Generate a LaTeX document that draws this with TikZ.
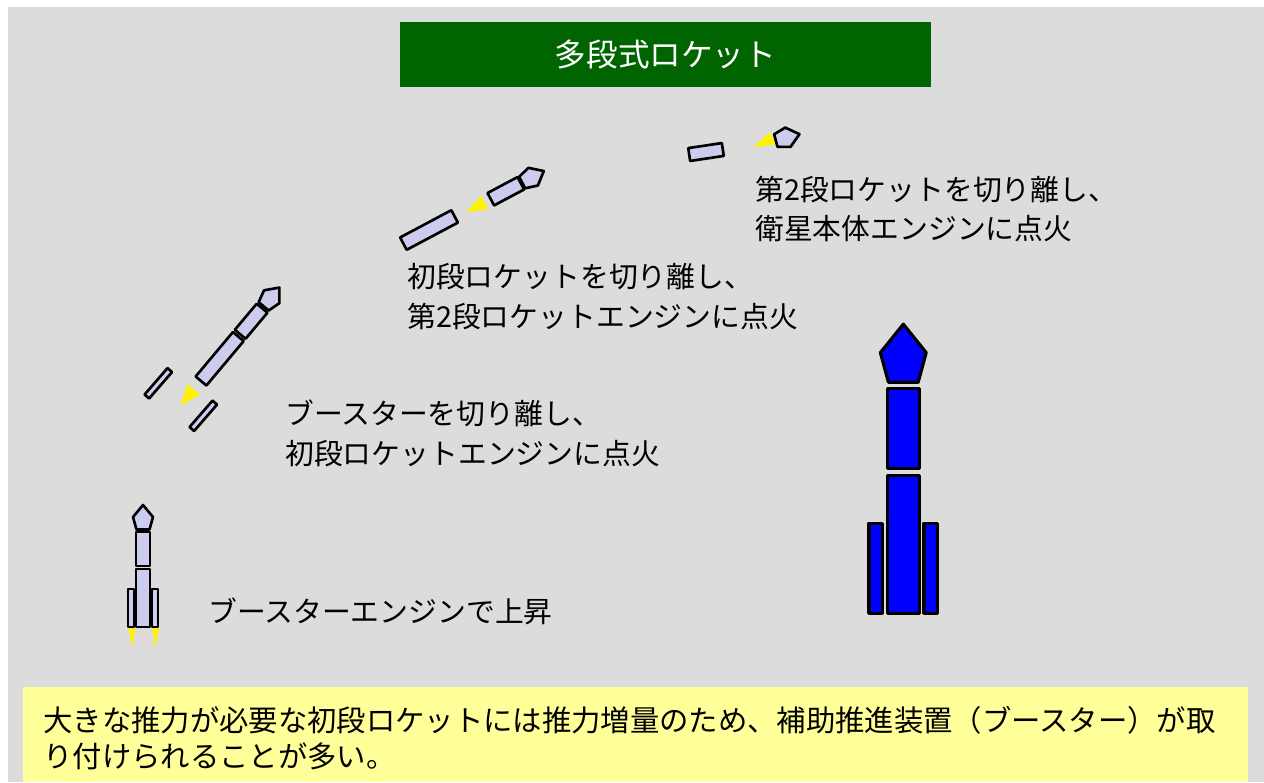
\documentclass[tikz,border=0pt]{standalone}
\usepackage{fontspec}
\setmainfont{Noto Sans CJK JP}
\usetikzlibrary{shadows}

\definecolor{panelgray}{RGB}{220,220,220}
\definecolor{titlegreen}{RGB}{0,100,0}
\definecolor{noteyellow}{RGB}{255,255,153}
\definecolor{stagefill}{RGB}{204,204,238}
\definecolor{bigblue}{RGB}{0,0,255}

\begin{document}
\begin{tikzpicture}[x=0.02cm,y=0.02cm,every pic/.style={transform shape},
    part/.style={draw=black,line width=1.5pt,fill=stagefill,line join=round,
      drop shadow={opacity=0.2,shadow xshift=0.5pt,shadow yshift=-0.8pt}},
    bigpart/.style={part,line width=1.8pt,fill=bigblue},
    stagetext/.style={anchor=west,inner sep=0pt,align=left,
      font=\fontsize{16.4}{22.7}\selectfont},
    pics/flame/.style={code={\fill[yellow] (-#1,0) -- (#1,0) -- (0,-21) -- cycle;}},
    pics/nosecone/.style={code={
      \draw[#1] (-6.5,0) -- (6.5,0) -- (10,12.5) -- (0,24.5) -- (-10,12.5) -- cycle;}},
    pics/fullrocket/.style={code={
      \draw[#1] (-15,0) rectangle (-9,38);   % boosters
      \draw[#1] (9,0) rectangle (15,38);
      \draw[#1] (-7,0) rectangle (7,58);     % first stage
      \draw[#1] (-7,61) rectangle (7,95);    % second stage
      \pic at (0,97.5) {nosecone=#1};}}]

  \useasboundingbox (0,0) rectangle (1264,-782);
  \fill[white] (0,0) rectangle (1264,-782);
  \fill[panelgray] (8,-7) rectangle (1264,-782);

  \node (title) [fill=titlegreen,text=white,minimum width=10.62cm,minimum height=1.3cm,
    font=\fontsize{18}{22}\selectfont] at (665.5,-54.5) {多段式ロケット};

  % lift-off on the boosters
  \pic at (132,-627) {flame=3.5};
  \pic at (155.5,-627) {flame=3.5};
  \pic (launch) at (143,-627) {fullrocket=part};
  \node (lifttext) [stagetext] at (208,-611) {ブースターエンジンで上昇};

  % boosters dropped
  \begin{scope}[shift={(158.3,-383.3)},rotate=-41]
    \draw[part] (-3,-17.5) rectangle (3,17.5);
  \end{scope}
  \begin{scope}[shift={(203.3,-415.8)},rotate=-41]
    \draw[part] (-3,-17.5) rectangle (3,17.5);
  \end{scope}
  \begin{scope}[shift={(201,-381)},rotate=-40,transform shape]
    \pic at (0,-11) {flame=8};
    \draw[part] (-7,0) rectangle (7,58);
    \draw[part] (-7,61) rectangle (7,95);
    \pic at (0,97.5) {nosecone=part};
  \end{scope}
  \node (boostertext) [stagetext] at (285,-433)
    {ブースターを切り離し、\\初段ロケットエンジンに点火};

  % first stage dropped
  \begin{scope}[shift={(429,-230)},rotate=-62]
    \draw[part] (-7,-29) rectangle (7,29);
  \end{scope}
  \begin{scope}[shift={(490.8,-199.2)},rotate=-62,transform shape]
    \pic at (0,-7) {flame=7.5};
    \draw[part] (-7,0) rectangle (7,34);
    \pic at (0,35.5) {nosecone=part};
  \end{scope}
  \node (firsttext) [stagetext] at (407,-297)
    {初段ロケットを切り離し、\\第2段ロケットエンジンに点火};

  % second stage dropped
  \begin{scope}[shift={(706,-152)},rotate=-81.5]
    \draw[part] (-6.5,-17) rectangle (6.5,17);
  \end{scope}
  \begin{scope}[shift={(775.8,-140.5)},rotate=-75,transform shape]
    \pic[rotate=10] at (-3,-2.5) {flame=7};
    \pic at (0,0) {nosecone=part};
  \end{scope}
  \node (secondtext) [stagetext] at (755,-209)
    {第2段ロケットを切り離し、\\衛星本体エンジンに点火};

  % large rocket
  \pic[xscale=2.29,yscale=2.37] (big) at (903.3,-613.3) {fullrocket=bigpart};

  \node (notebox) [fill=noteyellow,minimum width=24.5cm,minimum height=1.9cm,
    anchor=north west,inner sep=0pt] at (23,-687) {};
  \node (note) [anchor=west,inner sep=0pt,align=left,
    font=\fontsize{16.7}{20.4}\selectfont] at (43,-738)
    {大きな推力が必要な初段ロケットには推力増量のため、補助推進装置（ブースター）が取\\り付けられることが多い。};
\end{tikzpicture}
\end{document}
